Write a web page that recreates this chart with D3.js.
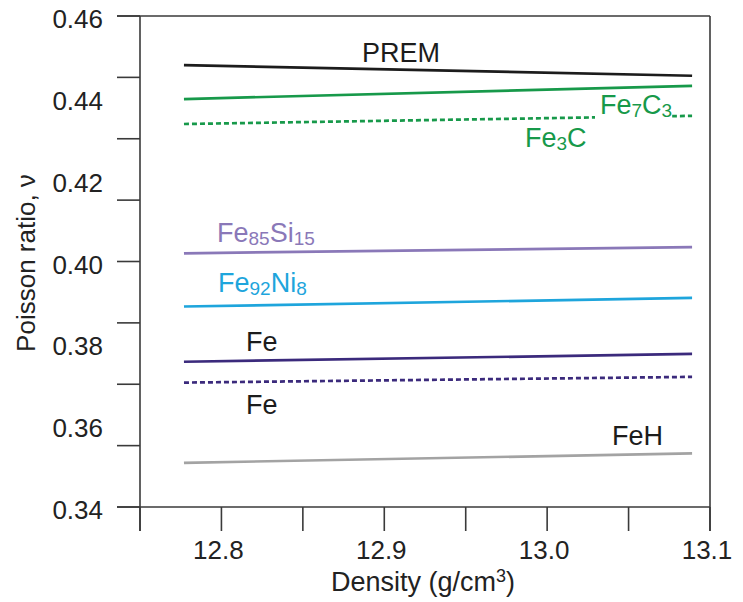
<!DOCTYPE html>
<html><head><meta charset="utf-8">
<script src="https://cdn.jsdelivr.net/npm/d3@7/dist/d3.min.js"></script>
<style>body{margin:0;background:#fff}svg{display:block;font-family:"Liberation Sans",Arial,sans-serif}</style>
</head><body><svg id="c" width="743" height="602"></svg>
<script>
const densityRange = [12.777, 13.089];
const seriesNames = ["PREM","Fe7C3","Fe3C","Fe85Si15","Fe92Ni8","Fe","Fe_dashed","FeH"];
const startValues = [0.4480, 0.4397, 0.4336, 0.4020, 0.3890, 0.3755, 0.3704, 0.3508];
const endValues   = [0.4454, 0.4429, 0.4356, 0.4035, 0.3911, 0.3774, 0.3718, 0.3531];
const colors = ["#1c1c1c","#17994a","#17994a","#8a78b8","#1ea5dc","#3b2a7c","#3b2a7c","#a3a3a3"];
const dashed = [false,false,true,false,false,false,true,false];
const yTickLabels = [0.46,0.44,0.42,0.40,0.38,0.36,0.34];
const yTickMarks = [0.46,0.445,0.43,0.415,0.40,0.385,0.37,0.355,0.34];
const xTickLabels = [12.8,12.9,13.0,13.1];
const xTickMarks = [12.75,12.8,12.85,12.9,12.95,13.0,13.05,13.1];

const svg = d3.select("#c");
const L=140,R=710,T=16,B=507;
const x = d3.scaleLinear().domain([12.75,13.1]).range([L,R]);
const y = d3.scaleLinear().domain([0.34,0.46]).range([B,T]);
const axCol="#3a3a3a";

// frame
svg.append("line").attr("x1",L-23).attr("x2",R).attr("y1",T).attr("y2",T).attr("stroke",axCol).attr("stroke-width",1.6);
svg.append("line").attr("x1",L-23).attr("x2",R).attr("y1",B).attr("y2",B).attr("stroke",axCol).attr("stroke-width",1.6);
svg.append("line").attr("x1",L).attr("x2",L).attr("y1",T).attr("y2",B+24).attr("stroke",axCol).attr("stroke-width",1.6);
svg.append("line").attr("x1",R).attr("x2",R).attr("y1",T).attr("y2",B+24).attr("stroke",axCol).attr("stroke-width",1.6);

// y ticks
svg.selectAll(".yt").data(yTickMarks).enter().append("line")
  .attr("x1",L-23).attr("x2",L).attr("y1",d=>y(d)).attr("y2",d=>y(d)).attr("stroke",axCol).attr("stroke-width",1.6);
svg.selectAll(".yl").data(yTickLabels).enter().append("text")
  .attr("x",103).attr("y",d=>y(d)+12).attr("text-anchor","end")
  .attr("font-size",26).attr("fill","#222").text(d=>d.toFixed(2));
// x ticks
svg.selectAll(".xt").data(xTickMarks).enter().append("line")
  .attr("x1",d=>x(d)).attr("x2",d=>x(d)).attr("y1",B).attr("y2",B+24).attr("stroke",axCol).attr("stroke-width",1.6);
svg.selectAll(".xl").data(xTickLabels).enter().append("text")
  .attr("x",d=>x(d)-3).attr("y",559).attr("text-anchor","middle")
  .attr("font-size",26).attr("fill","#222").text(d=>d.toFixed(1));

// axis titles
const xt = svg.append("text").attr("x",423).attr("y",591).attr("text-anchor","middle").attr("font-size",27).attr("fill","#222");
xt.append("tspan").text("Density (g/cm");
xt.append("tspan").attr("font-size",18).attr("dy",-9).text("3");
xt.append("tspan").attr("dy",9).text(")");
svg.append("text").attr("transform","translate(35,263) rotate(-90)").attr("text-anchor","middle")
  .attr("font-size",26).attr("fill","#222").text("Poisson ratio, ν");

// lines
const line = d3.line().x(d=>x(d[0])).y(d=>y(d[1]));
seriesNames.forEach((n,i)=>{
  svg.append("path").datum([[densityRange[0],startValues[i]],[densityRange[1],endValues[i]]])
    .attr("d",line).attr("fill","none").attr("stroke",colors[i]).attr("stroke-width",2.7)
    .attr("stroke-dasharray",dashed[i]?"5,3":null);
});

// labels (with subscripts)
function label(parts, px, py, col, bg){
  const t = svg.append("text").attr("x",px).attr("y",py).attr("font-size",27).attr("fill",col);
  let sub=false;
  parts.forEach(p=>{
    if(typeof p==="string"){ t.append("tspan").attr("dy",sub?-3:0).text(p); sub=false; }
    else { t.append("tspan").attr("font-size",19).attr("dy",sub?0:3).text(p.s); sub=true; }
  });
  if(bg){
    const b=t.node().getBBox();
    svg.insert("rect",()=>t.node()).attr("x",b.x-5).attr("y",b.y).attr("width",b.width+5).attr("height",b.height).attr("fill","#fff");
  }
  return t;
}
label(["PREM"],362,62,"#1c1c1c");
label(["Fe",{s:"7"},"C",{s:"3"}],600,114,"#17994a",true);
label(["Fe",{s:"3"},"C"],525,147,"#17994a");
label(["Fe",{s:"85"},"Si",{s:"15"}],217,242,"#8a78b8");
label(["Fe",{s:"92"},"Ni",{s:"8"}],218,292,"#1ea5dc");
label(["Fe"],246,351,"#1c1c1c");
label(["Fe"],246,414,"#1c1c1c");
label(["FeH"],612,445,"#1c1c1c");
</script></body></html>
